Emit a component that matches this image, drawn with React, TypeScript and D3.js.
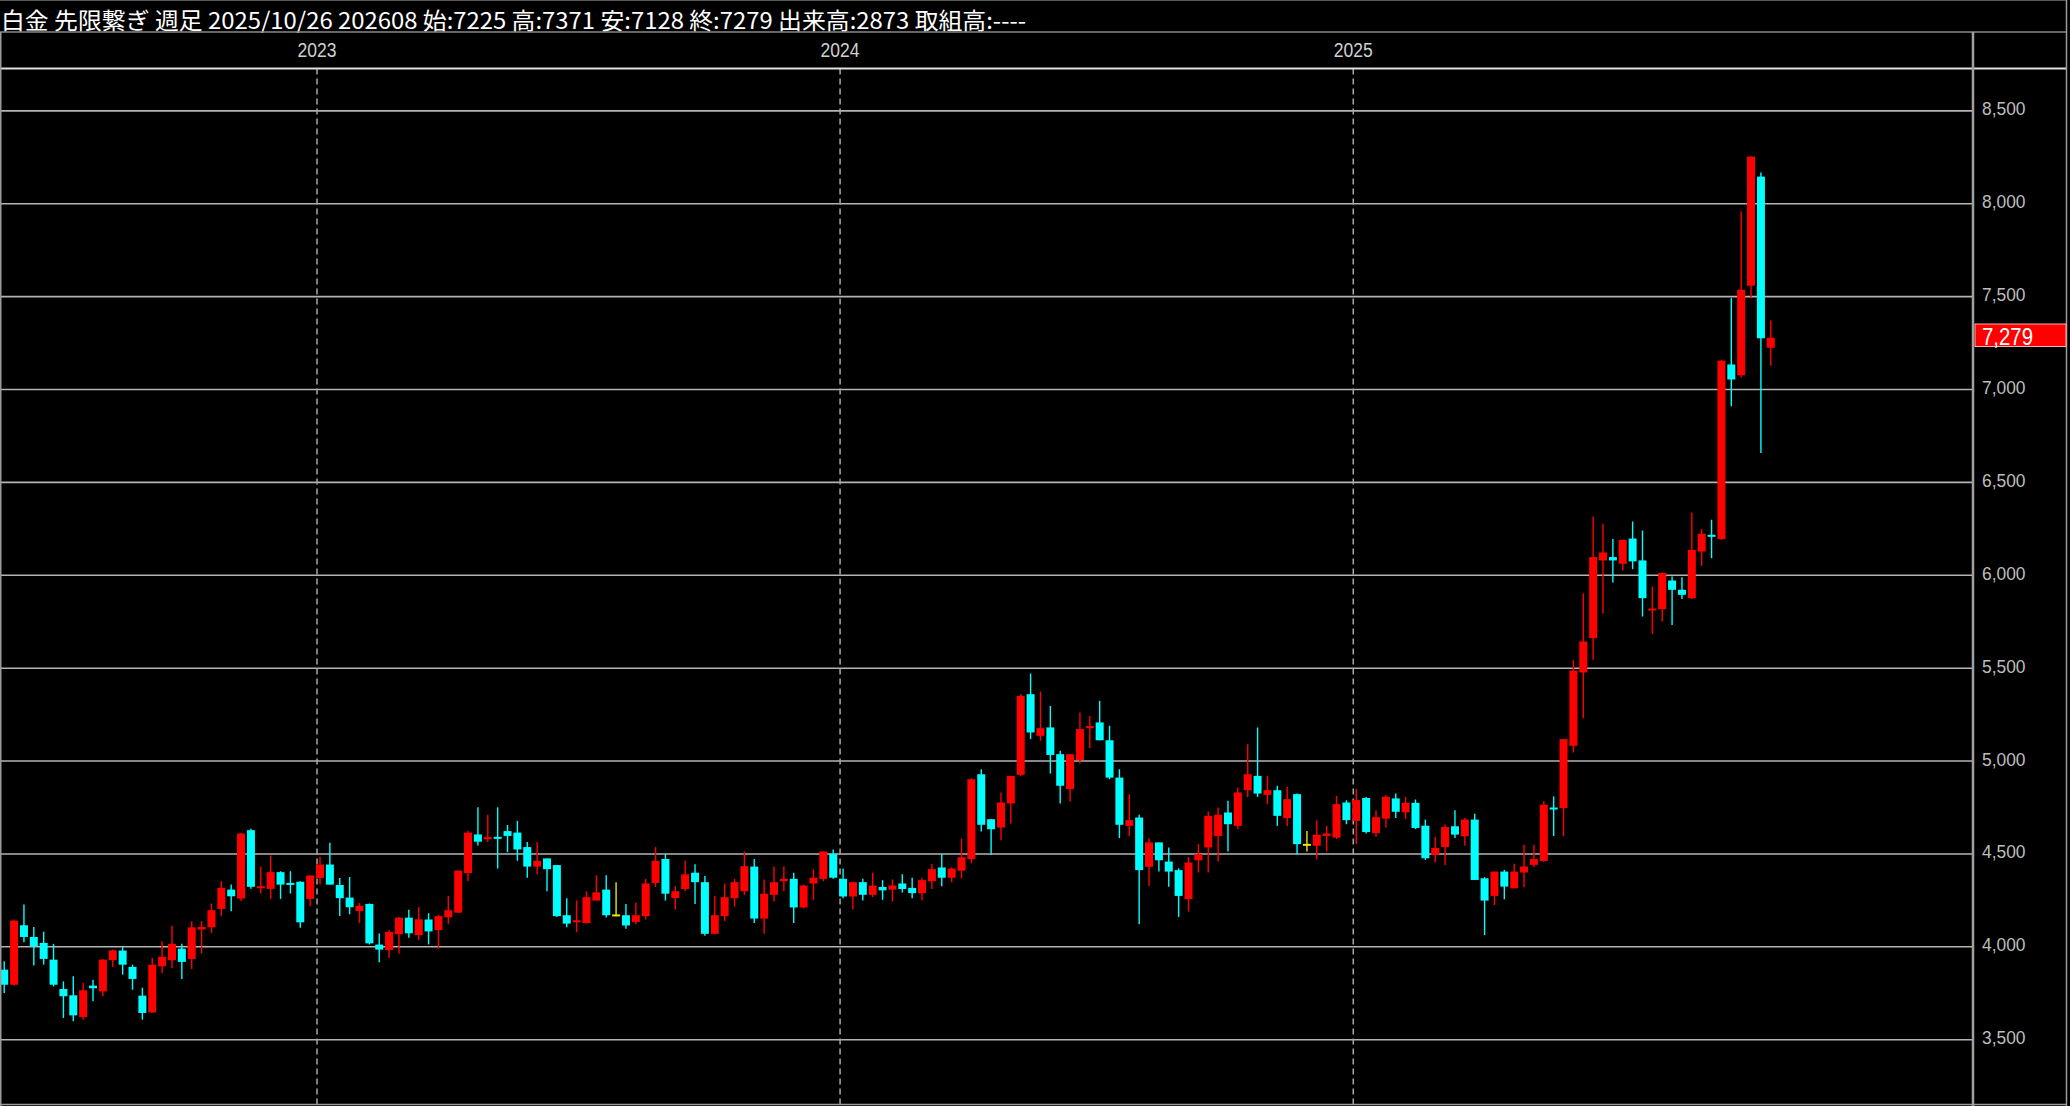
import React from "react";
import * as d3 from "d3";

const W = 2070;
const H = 1106;

const headerText =
  "白金 先限繋ぎ 週足 2025/10/26 202608 始:7225 高:7371 安:7128 終:7279 出来高:2873 取組高:----";

// weekly bars, first bar week of 2022-05-22
const firstWeek = new Date(2022, 4, 22);

const opens = [
  3877, 3796, 4116, 4053, 4021, 3931, 3773, 3739, 3622, 3791, 3760, 3928, 3980, 3892, 3737, 3647,
  3895, 3928, 3990, 3935, 4093, 4105, 4204, 4308, 4260, 4628, 4317, 4312, 4402, 4344, 4350, 4258,
  4371, 4443, 4333, 4265, 4193, 4231, 4012, 3983, 4068, 4157, 4063, 4147, 4090, 4159, 4184, 4397,
  4605, 4586, 4592, 4623, 4615, 4537, 4432, 4476, 4440, 4170, 4136, 4128, 4249, 4308, 4169, 4170,
  4134, 4165, 4344, 4473, 4262, 4311, 4399, 4348, 4070, 4165, 4262, 4299, 4432, 4152, 4280, 4353,
  4366, 4212, 4341, 4366, 4500, 4366, 4271, 4348, 4280, 4322, 4308, 4341, 4317, 4289, 4353, 4427,
  4372, 4410, 4472, 4929, 4687, 4642, 4772, 4926, 5360, 5136, 5181, 5037, 4849, 5005, 5181, 5208,
  5112, 4911, 4651, 4696, 4431, 4562, 4459, 4413, 4257, 4466, 4535, 4597, 4723, 4651, 4843, 4920,
  4818, 4843, 4693, 4822, 4549, 4544, 4597, 4588, 4777, 4678, 4801, 4612, 4690, 4799, 4724, 4775,
  4652, 4495, 4537, 4649, 4595, 4685, 4369, 4274, 4405, 4315, 4400, 4441, 4462, 4750, 4747, 5082,
  5477, 5662, 6080, 6098, 6062, 6198, 6080, 5814, 5818, 5972, 5922, 5877, 6128, 6218, 6195, 7135,
  7077, 7559, 8146, 7225,
];
const highs = [
  3922, 4147, 4228, 4107, 4082, 4016, 3814, 3841, 3805, 3823, 3935, 3985, 4003, 3904, 3780, 3940,
  4030, 4114, 4016, 4138, 4138, 4233, 4353, 4335, 4614, 4635, 4431, 4492, 4407, 4407, 4353, 4384,
  4484, 4560, 4371, 4376, 4235, 4233, 4072, 4092, 4161, 4200, 4215, 4181, 4173, 4273, 4414, 4625,
  4751, 4711, 4751, 4656, 4678, 4564, 4564, 4476, 4440, 4262, 4249, 4299, 4385, 4385, 4348, 4231,
  4238, 4366, 4537, 4500, 4326, 4463, 4445, 4381, 4275, 4341, 4366, 4513, 4473, 4363, 4432, 4432,
  4399, 4335, 4418, 4513, 4524, 4421, 4348, 4366, 4399, 4359, 4363, 4390, 4372, 4372, 4445, 4500,
  4427, 4583, 4908, 4956, 4687, 4831, 4920, 5360, 5471, 5374, 5297, 5055, 5037, 5261, 5243, 5324,
  5190, 4956, 4822, 4711, 4585, 4562, 4535, 4423, 4484, 4553, 4728, 4750, 4786, 4858, 5091, 5181,
  4920, 4867, 4861, 4825, 4624, 4682, 4651, 4813, 4789, 4850, 4806, 4734, 4817, 4826, 4807, 4793,
  4685, 4591, 4658, 4735, 4694, 4717, 4375, 4405, 4414, 4447, 4550, 4550, 4783, 4810, 5118, 5545,
  5904, 6317, 6277, 6195, 6191, 6290, 6241, 5940, 6015, 5994, 5990, 6338, 6249, 6299, 7160, 7492,
  7960, 8254, 8168, 7371,
];
const lows = [
  3751, 3790, 4025, 3899, 3904, 3787, 3617, 3599, 3608, 3707, 3734, 3892, 3850, 3769, 3608, 3644,
  3859, 3886, 3827, 3881, 3963, 4075, 4165, 4192, 4246, 4312, 4287, 4258, 4258, 4287, 4102, 4219,
  4335, 4335, 4166, 4175, 4128, 4013, 3917, 3941, 3963, 4049, 4037, 4013, 3990, 4124, 4182, 4353,
  4545, 4564, 4421, 4509, 4463, 4372, 4390, 4299, 4161, 4106, 4079, 4125, 4249, 4158, 4165, 4097,
  4121, 4147, 4322, 4249, 4201, 4299, 4231, 4060, 4068, 4139, 4216, 4280, 4128, 4070, 4244, 4299,
  4128, 4207, 4253, 4353, 4366, 4262, 4201, 4249, 4267, 4253, 4244, 4293, 4262, 4249, 4311, 4326,
  4348, 4368, 4449, 4621, 4495, 4574, 4664, 4920, 5118, 5109, 4933, 4772, 4782, 4987, 5069, 5112,
  4902, 4585, 4597, 4122, 4328, 4405, 4323, 4161, 4190, 4400, 4400, 4459, 4513, 4633, 4807, 4807,
  4768, 4651, 4651, 4499, 4513, 4472, 4513, 4580, 4660, 4554, 4610, 4593, 4642, 4694, 4688, 4634,
  4468, 4454, 4441, 4586, 4544, 4360, 4063, 4225, 4256, 4315, 4321, 4429, 4456, 4596, 4596, 5046,
  5231, 5545, 5793, 5961, 6026, 6033, 5778, 5685, 5751, 5733, 5872, 5872, 6051, 6092, 6190, 6910,
  7065, 7492, 6658, 7128,
];
const closes = [
  3796, 4141, 4053, 4003, 3935, 3796, 3734, 3631, 3766, 3777, 3931, 3981, 3904, 3827, 3644, 3904,
  3946, 4016, 3919, 4105, 4107, 4197, 4317, 4272, 4610, 4323, 4326, 4402, 4335, 4337, 4132, 4384,
  4443, 4335, 4262, 4213, 4221, 4019, 3985, 4080, 4157, 4073, 4148, 4083, 4165, 4197, 4410, 4615,
  4566, 4590, 4586, 4597, 4524, 4432, 4463, 4418, 4165, 4125, 4143, 4267, 4293, 4170, 4169, 4115,
  4170, 4341, 4463, 4286, 4299, 4390, 4348, 4070, 4170, 4267, 4348, 4434, 4152, 4286, 4348, 4366,
  4212, 4330, 4372, 4513, 4372, 4271, 4348, 4280, 4330, 4304, 4330, 4311, 4289, 4359, 4418, 4372,
  4421, 4482, 4902, 4657, 4633, 4777, 4920, 5351, 5154, 5177, 5033, 4867, 5037, 5172, 5188, 5112,
  4911, 4657, 4682, 4413, 4562, 4466, 4405, 4274, 4454, 4499, 4705, 4711, 4660, 4831, 4929, 4825,
  4843, 4705, 4795, 4553, 4549, 4603, 4610, 4768, 4682, 4790, 4618, 4698, 4808, 4727, 4775, 4640,
  4477, 4532, 4645, 4604, 4685, 4360, 4249, 4405, 4324, 4405, 4432, 4472, 4765, 4742, 5118, 5487,
  5644, 6098, 6123, 6080, 6191, 6075, 5877, 5821, 6012, 5922, 5895, 6137, 6224, 6209, 7155, 7054,
  7537, 8254, 7276, 7279,
];

const priceTicks = [3500, 4000, 4500, 5000, 5500, 6000, 6500, 7000, 7500, 8000, 8500];
const lastPrice = 7279;

const UP = "#ff0000";
const DOWN = "#00ffff";
const DOJI = "#e8e800";

export default function App() {
  const plotLeft = 0;
  const plotRight = 1973;
  const plotTop = 68.5;
  const plotBottom = 1104;

  const dates = opens.map((_, i) => d3.timeWeek.offset(firstWeek, i));

  const x = d3.scaleLinear().domain([-0.4256, 199.49]).range([plotLeft, plotRight]);
  const y = d3.scaleLinear().domain([3500, 8500]).range([1039.7, 110.9]);

  const fmt = d3.format(",");

  const yearStarts: { idx: number; label: string }[] = [];
  dates.forEach((d, i) => {
    if (i > 0 && d.getFullYear() !== dates[i - 1].getFullYear()) {
      yearStarts.push({ idx: i, label: String(d.getFullYear()) });
    }
  });

  const bw = 8;

  return (
    <div style={{ position: "fixed", left: 0, top: 0, width: W, height: H, background: "#000" }}>
      <svg width={W} height={H} style={{ display: "block" }}>
        <rect x={0} y={0} width={W} height={H} fill="#000" />
        {/* header */}
        <text
          x={1}
          y={28.5}
          fill="#ffffff"
          fontFamily="'Noto Sans CJK JP', sans-serif"
          fontSize={23}
          textLength={1025}
          lengthAdjust="spacingAndGlyphs"
        >
          {headerText}
        </text>
        <line x1={0} x2={2067} y1={32} y2={32} stroke="#8a8a8a" strokeWidth={1.5} />
        <line x1={0} x2={2067} y1={0.5} y2={0.5} stroke="#555" strokeWidth={1} />

        {/* gridlines */}
        {priceTicks.map((p) => (
          <line key={p} x1={plotLeft} x2={plotRight} y1={y(p)} y2={y(p)} stroke="#b4b4b4" strokeWidth={1.6} />
        ))}

        {/* year dividers */}
        {yearStarts.map((ys) => (
          <g key={ys.label}>
            <line
              x1={x(ys.idx) - 3}
              x2={x(ys.idx) - 3}
              y1={plotTop}
              y2={plotBottom}
              stroke="#a8a8a8"
              strokeWidth={1.5}
              strokeDasharray="6,4"
            />
            <text
              x={x(ys.idx) - 3}
              y={56.5}
              fill="#d0d0d0"
              fontFamily="'Liberation Sans', Arial, sans-serif"
              fontSize={20}
              textAnchor="middle"
              textLength={39}
              lengthAdjust="spacingAndGlyphs"
            >
              {ys.label}
            </text>
          </g>
        ))}

        {/* candles */}
        {opens.map((o, i) => {
          const c = closes[i];
          const hi = highs[i];
          const lo = lows[i];
          const cx = x(i);
          const color = c > o ? UP : c < o ? DOWN : DOJI;
          const top = y(Math.max(o, c));
          const bot = y(Math.min(o, c));
          const h = Math.max(2, bot - top);
          return (
            <g key={i}>
              <line x1={cx} x2={cx} y1={y(hi)} y2={y(lo)} stroke={color} strokeWidth={1.4} />
              <rect x={cx - bw / 2} y={c === o ? top - 1 : top} width={bw} height={h} fill={color} />
            </g>
          );
        })}

        {/* frame */}
        <line x1={0} x2={2067} y1={plotTop} y2={plotTop} stroke="#e0e0e0" strokeWidth={2} />
        <line x1={0.75} x2={0.75} y1={32} y2={H} stroke="#9a9a9a" strokeWidth={1.5} />
        <line x1={plotRight} x2={plotRight} y1={32} y2={H} stroke="#a0a0a0" strokeWidth={2.5} />
        <line x1={2066.5} x2={2066.5} y1={0} y2={H} stroke="#9a9a9a" strokeWidth={1.5} />
        <line x1={0} x2={2067} y1={plotBottom + 0.5} y2={plotBottom + 0.5} stroke="#9a9a9a" strokeWidth={1.5} />

        {/* y axis labels */}
        {priceTicks.map((p) => (
          <text
            key={"l" + p}
            x={1982}
            y={y(p) + 4.5}
            fill="#bdbdbd"
            fontFamily="'Liberation Sans', Arial, sans-serif"
            fontSize={18.5}
            textLength={43.5}
            lengthAdjust="spacingAndGlyphs"
          >
            {fmt(p)}
          </text>
        ))}

        {/* last price box */}
        <rect x={1975} y={324} width={91} height={22.5} fill="#ff0000" stroke="#ffb0b0" strokeWidth={1} />
        <text
          x={1982}
          y={y(lastPrice) + 7.5}
          fill="#ffffff"
          fontFamily="'Liberation Sans', Arial, sans-serif"
          fontSize={23}
          textLength={51}
          lengthAdjust="spacingAndGlyphs"
        >
          {fmt(lastPrice)}
        </text>
      </svg>
    </div>
  );
}
